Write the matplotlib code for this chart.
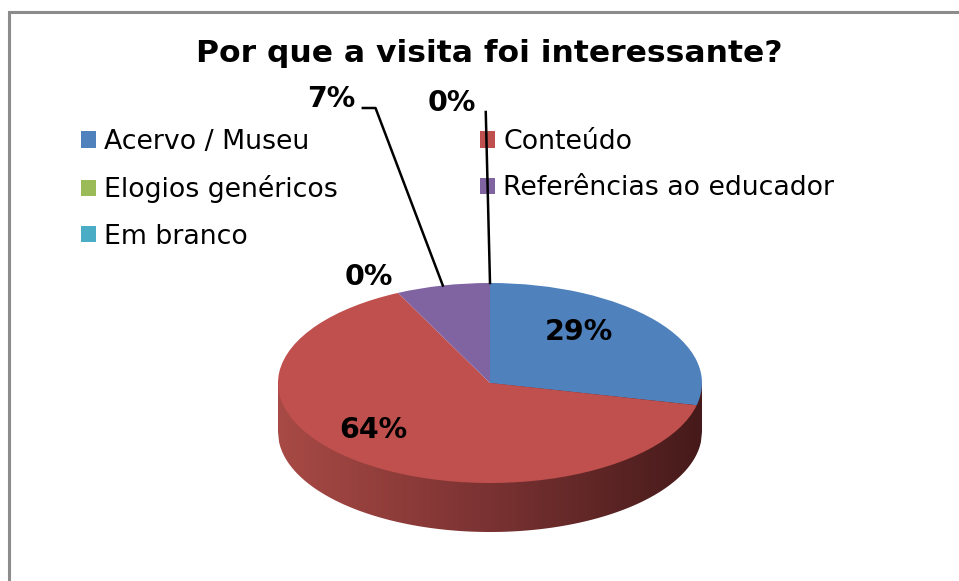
import numpy as np
import matplotlib
matplotlib.use("Agg")
import matplotlib.pyplot as plt
from matplotlib.colors import LinearSegmentedColormap
from matplotlib.patches import Polygon, Rectangle

# data
categories = ["Acervo / Museu", "Conteúdo", "Elogios genéricos",
              "Referências ao educador", "Em branco"]
counts = [4, 9, 0, 1, 0]
colors = ["#4f81bd", "#c0504d", "#9bbb59", "#8064a2", "#4bacc6"]
title = "Por que a visita foi interessante?"

# label placement (data units of the unit pie, squashed by the axes)
label_pos = [(0.42, 0.51), (-0.55, -0.47), (-0.57, 1.06), (-0.75, 2.84), (-0.18, 2.80)]
leader_knees = {3: [(-0.60, 2.75), (-0.54, 2.75)], 4: [(-0.02, 2.71)]}
depth = 0.49
side_colors = ["#a84a45", "#7a3232", "#461a1a"]

fig = plt.figure(figsize=(9.59, 5.81), dpi=100)
ax = fig.add_axes([0, 0, 1, 1])

# side wall of the 3D pie (only the front is visible, all red)
xs = np.linspace(-1, 1, 400)
front = -np.sqrt(1 - xs ** 2)
verts = np.column_stack([np.r_[xs, xs[::-1]], np.r_[front - depth, np.zeros_like(xs)]])
wall = Polygon(verts, closed=True, facecolor="none", edgecolor="none")
ax.add_patch(wall)
grad = np.linspace(0, 1, 256).reshape(1, -1)
im = ax.imshow(grad, cmap=LinearSegmentedColormap.from_list("side", side_colors),
               extent=[-1, 1, -1 - depth, 0], aspect="auto", zorder=1)
im.set_clip_path(wall)

wedges, _ = ax.pie(counts, colors=colors, startangle=90, counterclock=False,
                   radius=1, center=(0, 0), wedgeprops=dict(linewidth=0, zorder=3))

total = sum(counts)
for i, (w, (lx, ly)) in enumerate(zip(wedges, label_pos)):
    pct = round(counts[i] / total * 100)
    ax.text(lx, ly, f"{pct}%", ha="center", va="center", fontsize=20.5,
            fontweight="bold", zorder=5)
    if i in leader_knees:
        mid = np.deg2rad((w.theta1 + w.theta2) / 2)
        pts = leader_knees[i] + [(np.cos(mid), np.sin(mid))]
        ax.plot([p[0] for p in pts], [p[1] for p in pts], color="black", lw=1.8, zorder=4)

ax.set_aspect("auto")
ax.set_xlim(-490 / 212, 469 / 212)
ax.set_ylim((383 - 581) / 100, 383 / 100)
ax.axis("off")

# legend in row order: two columns, drawn under the leader lines
order = [0, 2, 4, 1, 3]
leg = ax.legend([wedges[i] for i in order], [categories[i] for i in order],
                ncol=2, loc="upper left", bbox_to_anchor=(81 / 959, 1 - 129 / 581),
                bbox_transform=fig.transFigure,
                frameon=False, fontsize=19.3, handlelength=0.56, handleheight=0.56,
                handletextpad=0.3, columnspacing=5.32, labelspacing=0.76,
                borderpad=0, borderaxespad=0)
leg.set_zorder(2)

fig.text(489 / 959, 1 - 53 / 581, title, ha="center", va="center",
         fontsize=22.6, fontweight="bold")

fig.patches.append(Rectangle((9 / 959, -0.1), 1.2, 1.1 - 12 / 581, fill=False,
                             edgecolor="#8c8c8c", lw=2.2, transform=fig.transFigure))

fig.savefig("out.png", dpi=100)
